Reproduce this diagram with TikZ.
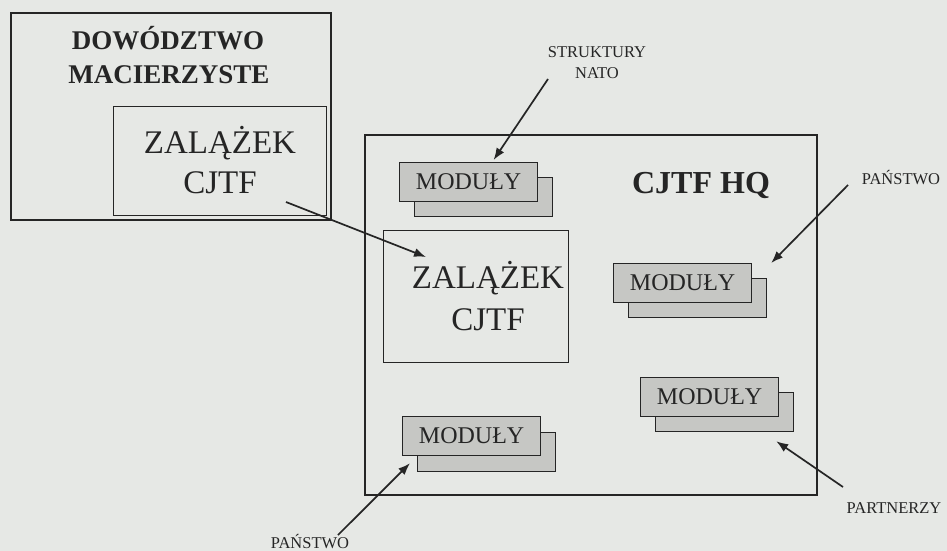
\documentclass[tikz,border=0pt]{standalone}
\usepackage{fontspec}
\setmainfont{Liberation Serif}
\usetikzlibrary{arrows.meta}
\definecolor{paper}{HTML}{E6E8E5}
\definecolor{modfill}{HTML}{C6C7C4}
\definecolor{ink}{HTML}{252525}
\begin{document}
\begin{tikzpicture}[x=1pt,y=-1pt,
  box/.style={draw=ink,line width=1.4pt,rectangle,inner sep=0pt,anchor=north west},
  modbox/.style={box,line width=1.2pt,fill=modfill,minimum width=138pt,minimum height=39pt},
  modtext/.style={font=\fontsize{24}{24}\selectfont,text=ink,inner sep=0pt},
  bigtext/.style={font=\fontsize{33}{33}\selectfont,text=ink,inner sep=0pt,anchor=base},
  boldtext/.style={font=\bfseries\fontsize{27}{27}\selectfont,text=ink,inner sep=0pt,anchor=base},
  lab/.style={font=\fontsize{16.5}{16.5}\selectfont,text=ink,inner sep=0pt,anchor=base},
  arr/.style={draw=ink,line width=1.7pt,-{Latex[length=12pt,width=9pt]}}]
\fill[paper] (0,0) rectangle (947,551);
\useasboundingbox (0,0) rectangle (947,551);

% home command
\node[box,line width=1.6pt,minimum width=320pt,minimum height=207pt] (dow) at (10,12) {};
\node[boldtext] (dowa) at (168,49) {DOWÓDZTWO};
\node[boldtext] (dowb) at (169,83) {MACIERZYSTE};
\node[box,line width=1.2pt,minimum width=213pt,minimum height=109pt] (zal1) at (113,106) {};
\node[bigtext] (zal1a) at (220,153) {ZALĄŻEK};
\node[bigtext] (zal1b) at (220,193) {CJTF};

% CJTF HQ
\node[box,line width=1.6pt,minimum width=452pt,minimum height=360pt] (hq) at (364,134) {};
\node[font=\bfseries\fontsize{32}{32}\selectfont,text=ink,inner sep=0pt,anchor=base] (hqt) at (701,193) {CJTF HQ};
\node[box,line width=1.2pt,minimum width=185pt,minimum height=132pt] (zal2) at (383,230) {};
\node[bigtext] (zal2a) at (488,288) {ZALĄŻEK};
\node[bigtext] (zal2b) at (488,330) {CJTF};

% modules
\node[modbox] (mod1b) at (414,177) {};
\node[modbox] (mod1) at (399,162) {};
\node[modtext] (mod1t) at (mod1.center) {MODUŁY};
\node[modbox] (mod2b) at (628,278) {};
\node[modbox] (mod2) at (613,263) {};
\node[modtext] (mod2t) at (mod2.center) {MODUŁY};
\node[modbox] (mod3b) at (655,392) {};
\node[modbox] (mod3) at (640,377) {};
\node[modtext] (mod3t) at (mod3.center) {MODUŁY};
\node[modbox] (mod4b) at (417,432) {};
\node[modbox] (mod4) at (402,416) {};
\node[modtext] (mod4t) at (mod4.center) {MODUŁY};

% labels
\node[lab] (nato1) at (597,58) {STRUKTURY};
\node[lab] (nato2) at (597,78) {NATO};
\node[lab] (pan1) at (901,184) {PAŃSTWO};
\node[lab] (part) at (894,513) {PARTNERZY};
\node[lab] (pan2) at (310,548) {PAŃSTWO};

% arrow start points
\coordinate (s1) at (548,79);
\coordinate (s2) at (848,185);
\coordinate (s3) at (286,202);
\coordinate (s4) at (843,487);
\coordinate (s5) at (338,535);

\draw[arr] (s1) -- ([shift={(25,-2)}]mod1.north);
\draw[arr] (s2) -- ([xshift=19pt]mod2.north east);
\draw[arr] (s3) -- ([shift={(43,27)}]zal2.north west);
\draw[arr] (s4) -- ([shift={(-18,9)}]mod3b.south east);
\draw[arr] (s5) -- ([shift={(-7,-9)}]mod4b.south west);
\end{tikzpicture}
\end{document}
